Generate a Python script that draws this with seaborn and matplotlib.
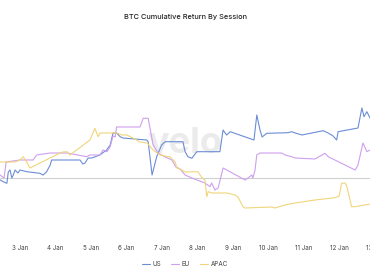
import matplotlib
matplotlib.use("Agg")
import matplotlib.pyplot as plt
import seaborn as sns
import pandas as pd
from matplotlib.lines import Line2D

# ---- data (day of January, cumulative return %) ----
us_day = [2.44, 2.53, 2.63, 2.67, 2.72, 2.77, 2.81, 2.86, 2.94, 3.00, 3.19, 3.56, 3.65, 3.75, 3.85,
          3.89, 4.69, 4.77, 4.83, 4.92, 5.02, 5.25, 5.44, 5.54, 5.62, 5.72, 5.82, 5.90, 6.57, 6.61,
          6.66, 6.72, 6.85, 6.99, 7.09, 7.59, 7.65, 7.73, 7.84, 7.98, 8.63, 8.72, 8.82, 8.92, 9.59,
          9.67, 9.76, 9.82, 9.95, 10.55, 10.65, 10.75, 10.94, 11.54, 11.68, 11.82, 11.92, 11.96,
          12.52, 12.63, 12.69, 12.77, 12.86]
us_ret = [-0.2, -0.37, -0.53, 0.6, 0.8, 0.0, 0.3, 0.8, 0.5, 0.8, 0.63, 0.47, 0.3, 0.63, 1.3,
          1.8, 1.8, 1.4, 1.5, 2.0, 2.0, 2.3, 2.8, 3.3, 4.5, 4.5, 4.13, 4.0, 3.8, 3.63,
          2.13, 0.3, 2.13, 3.3, 3.63, 3.63, 2.63, 2.13, 1.97, 2.63, 2.63, 4.8, 4.3, 4.63, 3.8,
          6.3, 4.8, 4.1, 4.47, 4.53, 4.63, 4.5, 4.3, 4.73, 4.5, 4.2, 3.8, 4.63,
          5.0, 7.0, 6.13, 6.63, 6.0]

eu_day = [2.44, 2.55, 2.61, 3.00, 3.37, 3.47, 3.85, 4.32, 4.88, 4.97, 5.25, 5.34, 5.45, 5.54,
          5.62, 5.68, 5.72, 6.38, 6.47, 6.61, 6.75, 6.89, 7.09, 7.28, 7.39, 7.51, 7.65, 7.84,
          8.21, 8.35, 8.40, 8.49, 8.58, 8.72, 9.34, 9.42, 9.53, 9.56, 9.62, 9.67, 9.76, 10.37,
          10.47, 10.65, 10.75, 11.31, 11.59, 11.68, 12.44, 12.52, 12.66, 12.77, 12.86]
eu_ret = [0.3, 0.0, 1.6, 1.8, 1.8, 2.3, 2.5, 2.5, 2.13, 2.3, 2.3, 2.8, 2.63, 3.13,
          4.2, 4.1, 5.1, 5.1, 5.97, 5.97, 3.3, 2.5, 2.1, 1.8, 1.1, 0.9, 0.3, 0.0,
          -0.5, -0.87, -0.5, -1.2, -1.0, 1.0, -0.2, 0.0, 0.3, 0.0, 0.8, 2.3, 2.5, 2.5,
          2.3, 2.13, 2.0, 1.9, 2.47, 2.13, 0.8, 1.3, 3.5, 2.63, 2.8]

apac_day = [2.44, 2.86, 3.00, 3.09, 3.17, 3.28, 4.13, 4.21, 4.32, 4.41, 4.97, 5.11, 5.20, 5.25,
            5.62, 5.73, 5.87, 6.01, 6.18, 6.38, 6.58, 6.75, 6.94, 7.23, 7.37, 7.42, 7.56, 7.65,
            8.01, 8.13, 8.21, 8.26, 8.30, 8.41, 8.82, 9.06, 9.14, 9.28, 9.34, 10.10, 10.18, 10.46,
            10.75, 11.31, 11.87, 11.99, 12.06, 12.16, 12.21, 12.34, 12.44, 12.86]
apac_ret = [1.6, 1.6, 1.8, 2.13, 1.7, 1.0, 2.5, 2.6, 2.63, 2.3, 3.8, 4.97, 4.13, 4.5,
            4.5, 4.5, 4.3, 4.3, 4.0, 3.6, 3.5, 2.8, 2.3, 2.1, 1.6, 1.0, 0.8, 0.6,
            0.63, 0.0, -0.2, -1.87, -1.37, -1.5, -1.5, -1.7, -1.9, -2.87, -3.0, -2.9, -3.0, -2.7,
            -2.5, -2.2, -1.97, -1.8, -0.53, -0.5, -0.9, -2.87, -2.87, -2.6]

sessions = ["US", "EU", "APAC"]
colors = ["#6b8dd6", "#cf9fee", "#f0d57a"]
tick_days = [3, 4, 5, 6, 7, 8, 9, 10, 11, 12, 13]
tick_labels = ["3 Jan", "4 Jan", "5 Jan", "6 Jan", "7 Jan", "8 Jan", "9 Jan",
               "10 Jan", "11 Jan", "12 Jan", "13 Jan"]
title = "BTC Cumulative Return By Session"

df = pd.concat([
    pd.DataFrame({"day": us_day, "ret": us_ret, "session": "US"}),
    pd.DataFrame({"day": eu_day, "ret": eu_ret, "session": "EU"}),
    pd.DataFrame({"day": apac_day, "ret": apac_ret, "session": "APAC"}),
], ignore_index=True)

sns.set_theme(style="white")
plt.rcParams["font.family"] = ["Inter", "DejaVu Sans"]

fig = plt.figure(figsize=(3.7, 2.8), dpi=100)
fig.patch.set_facecolor("white")
ax = fig.add_axes([-0.027, 0.15, 1.054, 0.725])

# watermark
ax.text(0.5, 0.465, "velo", transform=ax.transAxes, ha="center", va="center",
        fontsize=26, fontweight="bold", color="#ebebeb", zorder=0)

ax.axhline(0, color="#d0d0d0", lw=0.8, zorder=1)

sns.lineplot(data=df, x="day", y="ret", hue="session", hue_order=sessions,
             palette=dict(zip(sessions, colors)), estimator=None, sort=False,
             linewidth=0.8, ax=ax, legend=False, zorder=2)

ax.set_xlim(2.155, 13.14)
ax.set_ylim(-6.0, 14.3)
ax.set_xticks(tick_days)
ax.set_xticklabels(tick_labels)
ax.set_yticks([])
ax.set_xlabel("")
ax.set_ylabel("")
ax.tick_params(axis="x", length=0, pad=5, labelsize=4.5, labelcolor="#444444")
for s in ax.spines.values():
    s.set_visible(False)

fig.text(0.5, 1 - 17 / 280, title, ha="center", va="center", fontsize=5.3,
         color="#222222", fontweight="medium")

handles = [Line2D([0], [0], color=c, lw=0.8) for c in colors]
fig.legend(handles, sessions, loc="center", bbox_to_anchor=(0.5, 1 - 264 / 280),
           ncol=3, frameon=False, fontsize=4.5, handlelength=1.2, handletextpad=0.5,
           columnspacing=1.6, labelcolor="#444444")

fig.savefig("out.png", dpi=100, facecolor="white")
